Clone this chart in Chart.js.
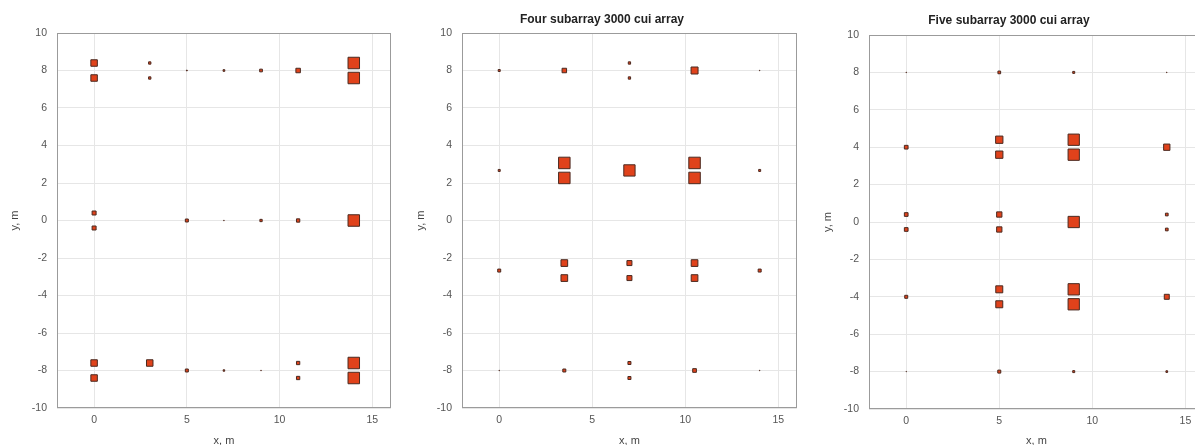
<!DOCTYPE html>
<html><head><meta charset="utf-8">
<script src="https://cdn.jsdelivr.net/npm/chart.js@4"></script>
<style>
html,body{margin:0;padding:0;background:#fff;overflow:hidden;width:1195px;height:445px;position:relative;}
canvas{position:absolute;top:0;}
</style></head><body>
<canvas id="c1" width="400" height="460" style="left:0px"></canvas>
<canvas id="c2" width="400" height="460" style="left:406px"></canvas>
<canvas id="c3" width="400" height="460" style="left:814px"></canvas>
<script>
// ---- data ----
const xTickValues = [0, 5, 10, 15];
const yTickValues = [-10, -8, -6, -4, -2, 0, 2, 4, 6, 8, 10];
const xRange = [-2, 16];
const yRange = [-10, 10];
const panelTitles = ['', 'Four subarray 3000 cui array', 'Five subarray 3000 cui array'];
const xAxisLabel = 'x, m';
const yAxisLabel = 'y, m';

// Panel 1: element x, y and relative weight (marker size)
const p1X = [0, 0, 0, 0, 0, 0, 3, 3, 3, 5, 5, 5, 7, 7, 7, 9, 9, 9, 11, 11, 11, 11, 14, 14, 14, 14, 14];
const p1Y = [8.4, 7.6, 0.4, -0.4, -7.6, -8.4, 8.4, 7.6, -7.6, 8, 0, -8, 8, 0, -8, 8, 0, -8, 8, 0, -7.6, -8.4, 8.4, 7.6, 0, -7.6, -8.4];
const p1W = [7.5, 7.5, 5, 5, 7.5, 7.5, 3.3, 3.3, 7.5, 1.8, 4, 4, 2.7, 1.5, 2.5, 3.7, 3.3, 1.5, 5.5, 4.3, 4.3, 4.3, 12.5, 12.5, 12.5, 12.5, 12.5];

// Panel 2: Four subarray
const p2X = [0, 0, 0, 0, 3.5, 3.5, 3.5, 3.5, 3.5, 3.5, 7, 7, 7, 7, 7, 7, 7, 10.5, 10.5, 10.5, 10.5, 10.5, 10.5, 14, 14, 14, 14];
const p2Y = [8, 2.67, -2.67, -8, 8, 3.07, 2.27, -2.27, -3.07, -8, 8.4, 7.6, 2.67, -2.27, -3.07, -7.6, -8.4, 8, 3.07, 2.27, -2.27, -3.07, -8, 8, 2.67, -2.67, -8];
const p2W = [3, 3, 4, 1.5, 5.5, 12.5, 12.5, 7.7, 7.7, 4, 3.3, 3.3, 12.3, 6, 6, 4, 4, 8, 12.5, 12.5, 7.7, 7.7, 4.7, 1.5, 3, 4, 1.5];

// Panel 3: Five subarray
const p3X = [0, 0, 0, 0, 0, 0, 5, 5, 5, 5, 5, 5, 5, 5, 9, 9, 9, 9, 9, 9, 9, 14, 14, 14, 14, 14, 14];
const p3Y = [8, 4, 0.4, -0.4, -4, -8, 8, 4.4, 3.6, 0.4, -0.4, -3.6, -4.4, -8, 8, 4.4, 3.6, 0, -3.6, -4.4, -8, 8, 4, 0.4, -0.4, -4, -8];
const p3W = [1.5, 4.7, 4.7, 4.7, 4, 1.2, 3.7, 8.3, 8.3, 6.3, 6.3, 8, 8, 4, 3, 12.3, 12.3, 12.3, 12.3, 12.3, 3, 1.5, 7.3, 3.7, 3.7, 6, 2.7];

// ---- layout / style ----
const FONT = "'Liberation Sans', Arial, Helvetica, sans-serif";
const layouts = [
  {yW: 57, padR: 7, padTop: 33, xH: 52, yTitlePad: 8.4, tPadTop: 0, tPadBottom: 0},
  {yW: 56, padR: 8, padTop: 0, xH: 52, yTitlePad: 8.4, tPadTop: 12.3, tPadBottom: 6.3},
  {yW: 55, padR: 10, padTop: 0, xH: 51, yTitlePad: 6.9, tPadTop: 13.3, tPadBottom: 7.3}
];
const panels = [
  {x: p1X, y: p1Y, w: p1W},
  {x: p2X, y: p2Y, w: p2W},
  {x: p3X, y: p3Y, w: p3W}
];

const boxPlugin = {
  id: 'axisBox',
  beforeDatasetsDraw(chart) {
    const a = chart.chartArea, c = chart.ctx;
    c.save();
    c.strokeStyle = '#9b9b9b';
    c.lineWidth = 1;
    const l = Math.round(a.left) + 0.5, t = Math.round(a.top) + 0.5;
    const r = Math.round(a.right) - 0.5, b = Math.round(a.bottom) - 0.5;
    c.strokeRect(l, t, r - l, b - t);
    c.restore();
  }
};

function radiusOf(w) { return Math.max(0.3, (w - 1) / Math.SQRT2); }

panels.forEach((p, k) => {
  const L = layouts[k];
  const data = p.x.map((xv, i) => ({x: xv, y: p.y[i]}));
  new Chart(document.getElementById('c' + (k + 1)), {
    type: 'scatter',
    data: {
      datasets: [{
        data: data,
        pointStyle: 'rect',
        pointRadius: ctx => radiusOf(p.w[ctx.dataIndex]),
        backgroundColor: '#E0421B',
        borderColor: '#4a2a20',
        borderWidth: 1,
        showLine: false
      }]
    },
    options: {
      responsive: false,
      animation: false,
      events: [],
      layout: {padding: {left: 0, right: L.padR, top: L.padTop, bottom: 0}},
      plugins: {
        legend: {display: false},
        tooltip: {enabled: false},
        title: {
          display: panelTitles[k] !== '',
          text: panelTitles[k],
          color: '#222',
          font: {family: FONT, size: 12, weight: 'bold'},
          padding: {top: L.tPadTop, bottom: L.tPadBottom}
        }
      },
      scales: {
        x: {
          type: 'linear',
          min: xRange[0], max: xRange[1],
          afterBuildTicks: s => { s.ticks = xTickValues.map(v => ({value: v})); },
          afterFit: s => { s.height = L.xH; },
          ticks: {color: '#555', font: {family: FONT, size: 10.5}, padding: 5.5, maxRotation: 0},
          grid: {color: '#e6e6e6', drawTicks: false, lineWidth: 1},
          border: {display: false},
          title: {display: true, text: xAxisLabel, color: '#444', font: {family: FONT, size: 11}, padding: {top: 0, bottom: 12}}
        },
        y: {
          type: 'linear',
          min: yRange[0], max: yRange[1],
          afterBuildTicks: s => { s.ticks = yTickValues.map(v => ({value: v})); },
          afterFit: s => { s.width = L.yW; },
          ticks: {color: '#555', font: {family: FONT, size: 10.5}, padding: 10},
          grid: {color: '#e6e6e6', drawTicks: false, lineWidth: 1},
          border: {display: false},
          title: {display: true, text: yAxisLabel, color: '#444', font: {family: FONT, size: 11}, padding: {top: L.yTitlePad, bottom: 0}}
        }
      }
    },
    plugins: [boxPlugin]
  });
});
</script>
</body></html>
